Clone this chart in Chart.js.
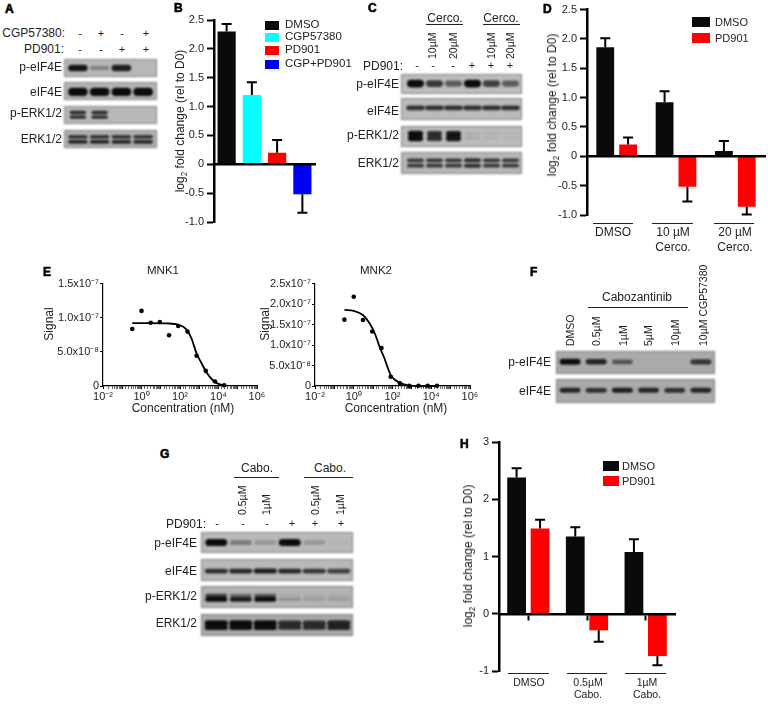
<!DOCTYPE html>
<html>
<head>
<meta charset="utf-8">
<title>Panels A-H</title>
<script src="https://cdn.jsdelivr.net/npm/chart.js@4/dist/chart.umd.min.js"></script>
<style>
  html, body { margin: 0; padding: 0; background: #fff; }
  #fig { position: relative; width: 768px; height: 708px; overflow: hidden;
         font-family: "Liberation Sans", Arial, sans-serif; color: #222; }
  #fig canvas { position: absolute; }
  .t { position: absolute; white-space: nowrap; line-height: 1; }
  .rule { position: absolute; height: 1px; background: #222; }
  .swatch { position: absolute; }
  .letter { font-weight: 700; font-size: 15px; color: #000; -webkit-text-stroke: 0.6px #000; }
  sub { font-size: 0.68em; line-height: 0; }
  .blot { filter: blur(0.8px); box-shadow: inset 0 0 0 1px rgba(80,80,80,0.55); }
</style>
</head>
<body>
<div id="fig"></div>
<script>
/* ── bar chart values ── */
const B_LABELS = ['DMSO', 'CGP57380', 'PD901', 'CGP+PD901'];
const B_VALUES = [2.3, 1.2, 0.2, -0.52];
const B_TIPS   = [2.43, 1.42, 0.42, -0.84];
const B_COLORS = ['#0a0a0a', '#00ffff', '#ff0000', '#0000f0'];

const D_GROUPS = ['DMSO', '10 µM', '20 µM'];
const D_DMSO   = [1.86, 0.92, 0.09];
const D_DMSO_TIPS = [2.01, 1.11, 0.26];
const D_PD901  = [0.2, -0.52, -0.86];
const D_PD901_TIPS = [0.32, -0.77, -0.99];

const H_GROUPS = ['DMSO', '0.5µM', '1µM'];
const H_DMSO   = [2.38, 1.35, 1.08];
const H_DMSO_TIPS = [2.54, 1.51, 1.3];
const H_PD901  = [1.49, -0.29, -0.74];
const H_PD901_TIPS = [1.64, -0.49, -0.9];

/* ── dose response values (signal in units of 1e-7) ── */
const CONC = [0.33, 1, 3, 9, 27, 81, 243, 729, 2187, 6561, 19683];
const MNK1_SIGNAL = [0.835, 1.1, 0.927, 0.936, 0.743, 0.878, 0.797, 0.444, 0.222, 0.067, 0.01];
const MNK1_FIT_X  = [0.33, 2.8, 20.4, 81, 221, 398, 724, 1318, 2400, 5250, 11750, 25700];
const MNK1_FIT_Y  = [0.922, 0.922, 0.917, 0.898, 0.826, 0.695, 0.478, 0.333, 0.197, 0.081, 0.023, 0.004];
const MNK2_SIGNAL = [1.62, 2.18, 1.61, 1.33, 0.927, 0.225, 0.065, 0.007, 0.005, 0.005, 0.005];
const MNK2_FIT_X  = [0.33, 1, 3.07, 6.8, 12.4, 22.4, 36, 81, 236, 716, 2100, 19683];
const MNK2_FIT_Y  = [1.857, 1.833, 1.727, 1.518, 1.276, 0.937, 0.709, 0.266, 0.08, 0.017, 0, 0];

/* ── western blot band intensities, one value per lane ── */
const A_PEIF4E = [0.95, 0.3, 0.9, 0];
const A_EIF4E  = [1, 1, 1, 1];
const A_PERK   = [0.85, 0.85, 0, 0];
const A_ERK    = [0.85, 0.85, 0.85, 0.85];
const C_PEIF4E = [1, 0.75, 0.55, 1, 0.7, 0.55];
const C_EIF4E  = [0.8, 0.8, 0.8, 0.8, 0.8, 0.8];
const C_PERK   = [1, 0.8, 0.95, 0.08, 0.05, 0.03];
const C_ERK    = [0.75, 0.75, 0.75, 0.8, 0.75, 0.75];
const F_PEIF4E = [1, 0.85, 0.55, 0, 0, 0.75];
const F_EIF4E  = [0.85, 0.8, 0.9, 0.85, 0.8, 0.85];
const G_PEIF4E = [1, 0.35, 0.2, 1, 0.2, 0.03];
const G_EIF4E  = [0.8, 0.85, 0.9, 0.85, 0.75, 0.7];
const G_PERK_U = [0.7, 0.5, 0.55, 0.08, 0.08, 0.08];
const G_PERK_L = [1, 0.9, 1, 0.2, 0.15, 0.15];
const G_ERK    = [1, 1, 1, 0.8, 0.8, 0.85];

const FONT = '"Liberation Sans", Arial, sans-serif';
const INK = '#222';
const fig = document.getElementById('fig');

/* ── dom helpers ── */
function T(text, x, y, o = {}) {
  const el = document.createElement('div');
  el.className = 't' + (o.cls ? ' ' + o.cls : '');
  el.innerHTML = text;
  el.style.fontSize = (o.size || 12) + 'px';
  el.style.left = '0'; el.style.top = '0';
  el.style.transformOrigin = '0 0';
  if (o.rot) {
    // rotated text reads upwards, o.mid centres it on y, otherwise it starts at y
    el.style.transform = `translate(${x}px,${y}px) rotate(-90deg) translate(${o.mid ? '-50%' : '0'},-50%)`;
  } else {
    const ax = o.align === 'r' ? '-100%' : o.align === 'c' ? '-50%' : '0';
    el.style.transform = `translate(${x}px,${y}px) translate(${ax},-50%)`;
  }
  fig.appendChild(el);
}
function rule(x1, x2, y, h = 1) {
  const el = document.createElement('div');
  el.className = 'rule';
  el.style.cssText = `left:${x1}px;top:${y}px;width:${x2 - x1}px;height:${h}px`;
  fig.appendChild(el);
}
function swatch(x, y, w, h, color) {
  const el = document.createElement('div');
  el.className = 'swatch';
  el.style.cssText = `left:${x}px;top:${y}px;width:${w}px;height:${h}px;background:${color}`;
  fig.appendChild(el);
}
function addCanvas(x, y, w, h, cls) {
  const c = document.createElement('canvas');
  c.width = w; c.height = h;
  c.style.cssText = `left:${x}px;top:${y}px;width:${w}px;height:${h}px`;
  if (cls) c.className = cls;
  fig.appendChild(c);
  return c;
}

/* ── error bar plugin, tips live on the dataset ── */
const errorBars = {
  id: 'errorbars',
  afterDatasetsDraw(chart) {
    const { ctx, scales } = chart;
    ctx.save();
    ctx.strokeStyle = '#000';
    ctx.lineWidth = 2;
    chart.data.datasets.forEach((ds, di) => {
      const meta = chart.getDatasetMeta(di);
      ds.tips.forEach((tip, i) => {
        const x = meta.data[i].x;
        const y0 = scales.y.getPixelForValue(ds.data[i]);
        const y1 = scales.y.getPixelForValue(tip);
        ctx.beginPath();
        ctx.moveTo(x, y0); ctx.lineTo(x, y1);
        ctx.moveTo(x - 5, y1); ctx.lineTo(x + 5, y1);
        ctx.stroke();
      });
    });
    ctx.restore();
  },
};

/* ── bar panels ── */
function barPanel(box, plot, cfg) {
  const canvas = addCanvas(box.x, box.y, box.w, box.h);
  return new Chart(canvas, {
    type: 'bar',
    data: { labels: cfg.labels, datasets: cfg.datasets },
    plugins: [errorBars],
    options: {
      animation: false,
      responsive: false,
      layout: { padding: {
        top: plot.top - box.y,
        bottom: box.y + box.h - plot.bottom,
        right: box.x + box.w - plot.right,
        left: 0,
      } },
      plugins: { legend: { display: false }, tooltip: { enabled: false } },
      scales: {
        x: {
          position: { y: 0 },
          ticks: { display: false },
          grid: { display: !!cfg.xTicks, drawOnChartArea: false, drawTicks: !!cfg.xTicks, offset: false,
                  tickLength: 5, tickColor: '#000', tickWidth: 2 },
          border: { color: '#000', width: 2.5, z: 1 },
        },
        y: {
          min: cfg.min, max: cfg.max,
          afterFit: s => { s.width = plot.left - box.x; },
          ticks: { stepSize: cfg.step, color: INK, font: { family: FONT, size: 11 }, padding: 3,
                   callback: v => cfg.fmt(v) },
          grid: { drawOnChartArea: false, tickLength: 7, tickColor: '#000', tickWidth: 2 },
          border: { color: '#000', width: 2.5 },
        },
      },
    },
  });
}
const oneDec = v => (v === 0 ? '0' : v.toFixed(1));

barPanel({ x: 170, y: 10, w: 155, h: 222 }, { left: 214, right: 315, top: 20, bottom: 222 }, {
  labels: B_LABELS, min: -1, max: 2.5, step: 0.5, fmt: oneDec,
  datasets: [{ data: B_VALUES, tips: B_TIPS, backgroundColor: B_COLORS, categoryPercentage: 1, barPercentage: 0.72 }],
});
barPanel({ x: 545, y: 0, w: 223, h: 225 }, { left: 587, right: 765, top: 6, bottom: 215 }, {
  labels: D_GROUPS, min: -1, max: 2.5, step: 0.5, fmt: oneDec,
  datasets: [
    { data: D_DMSO, tips: D_DMSO_TIPS, backgroundColor: '#0a0a0a', categoryPercentage: 0.77, barPercentage: 0.78 },
    { data: D_PD901, tips: D_PD901_TIPS, backgroundColor: '#ff0000', categoryPercentage: 0.77, barPercentage: 0.78 },
  ],
});
barPanel({ x: 460, y: 432, w: 225, h: 250 }, { left: 499, right: 675, top: 442, bottom: 671 }, {
  labels: H_GROUPS, min: -1, max: 3, step: 1, fmt: v => String(v), xTicks: true,
  datasets: [
    { data: H_DMSO, tips: H_DMSO_TIPS, backgroundColor: '#0a0a0a', categoryPercentage: 0.8, barPercentage: 0.8 },
    { data: H_PD901, tips: H_PD901_TIPS, backgroundColor: '#ff0000', categoryPercentage: 0.8, barPercentage: 0.8 },
  ],
});

/* ── dose response panels ── */
function dosePanel(box, plot, conc, signal, fitX, fitY, yMax, fmt) {
  const canvas = addCanvas(box.x, box.y, box.w, box.h);
  return new Chart(canvas, {
    type: 'scatter',
    data: { datasets: [
      { data: conc.map((x, i) => ({ x, y: signal[i] })), pointRadius: 2.3, pointBackgroundColor: '#000',
        pointBorderWidth: 0, showLine: false, clip: false },
      { data: fitX.map((x, i) => ({ x, y: fitY[i] })), borderColor: '#000', borderWidth: 1.8, pointRadius: 0,
        showLine: true, cubicInterpolationMode: 'monotone', clip: false },
    ] },
    options: {
      animation: false,
      responsive: false,
      layout: { padding: { top: plot.top - box.y, right: box.x + box.w - plot.right, left: 0, bottom: 0 } },
      plugins: { legend: { display: false }, tooltip: { enabled: false } },
      scales: {
        x: {
          type: 'logarithmic', min: 0.01, max: 1000000,
          afterFit: s => { s.height = box.y + box.h - plot.bottom; },
          ticks: { autoSkip: false, maxRotation: 0, minRotation: 0, color: INK, padding: 1,
                   font: { family: FONT, size: 11 },
                   callback: v => {
                     const e = Math.round(Math.log10(v));
                     if (Math.abs(Math.log10(v) - e) > 1e-6 || e % 2 !== 0) return '';
                     return '10' + ({ '-2': '⁻²', 0: '⁰', 2: '²', 4: '⁴', 6: '⁶' })[e];
                   } },
          grid: { drawOnChartArea: false, tickLength: 3, tickColor: '#000',
                  tickWidth: c => (c.tick && Number.isInteger(Math.round(Math.log10(c.tick.value) * 1e6) / 1e6) ? 1 : 0.6) },
          border: { color: '#000', width: 1.2 },
        },
        y: {
          min: 0, max: yMax,
          afterFit: s => { s.width = plot.left - box.x; },
          ticks: { stepSize: 0.5, color: INK, padding: 1, font: { family: FONT, size: 11 }, callback: v => fmt(v) },
          grid: { drawOnChartArea: false, tickLength: 3, tickColor: '#000', tickWidth: 1 },
          border: { color: '#000', width: 1.2 },
        },
      },
    },
  });
}
const sciTick = v => {
  if (v === 0) return '0';
  if (v < 1) return (v * 10).toFixed(1) + 'x10⁻⁸';
  return v.toFixed(1) + 'x10⁻⁷';
};
dosePanel({ x: 50, y: 276, w: 225, h: 127 }, { left: 103, right: 257, top: 283, bottom: 386 },
  CONC, MNK1_SIGNAL, MNK1_FIT_X, MNK1_FIT_Y, 1.5, sciTick);
dosePanel({ x: 262, y: 276, w: 225, h: 127 }, { left: 315, right: 470, top: 283, bottom: 386 },
  CONC, MNK2_SIGNAL, MNK2_FIT_X, MNK2_FIT_Y, 2.5, sciTick);

/* ── blots, each row of bands is a floating bar per lane ── */
function blot(box, pad, bg, rows) {
  const canvas = addCanvas(box.x, box.y, box.w, box.h, 'blot');
  canvas.style.background = bg;
  new Chart(canvas, {
    type: 'bar',
    data: {
      labels: rows[0].lanes.map((_, i) => 'lane ' + (i + 1)),
      datasets: rows.map(r => ({
        data: r.lanes.map(v => {
          const t = r.thick * (0.55 + 0.45 * v) / 2;
          return [r.at - t, r.at + t];
        }),
        backgroundColor: r.lanes.map(v => `rgba(12,12,12,${v})`),
        borderRadius: 4,
        borderSkipped: false,
        categoryPercentage: 1,
        barPercentage: r.width || 0.9,
        grouped: false,
      })),
    },
    options: {
      animation: false,
      responsive: false,
      layout: { padding: { left: pad[0], right: pad[1], top: 0, bottom: 0 } },
      plugins: { legend: { display: false }, tooltip: { enabled: false } },
      scales: {
        x: { display: false },
        y: { display: false, min: 0, max: 1, reverse: true },
      },
    },
  });
}

// panel A
blot({ x: 64, y: 59, w: 93, h: 18 }, [3, 3], '#b8b8b8', [{ lanes: A_PEIF4E, at: 0.5, thick: 0.38 }]);
blot({ x: 64, y: 82, w: 93, h: 18 }, [3, 3], '#b4b4b4', [{ lanes: A_EIF4E, at: 0.55, thick: 0.46 }]);
blot({ x: 64, y: 106, w: 93, h: 18 }, [3, 3], '#b8b8b8', [
  { lanes: A_PERK, at: 0.36, thick: 0.2, width: 0.76 }, { lanes: A_PERK, at: 0.62, thick: 0.2, width: 0.76 }]);
blot({ x: 64, y: 130, w: 93, h: 18 }, [3, 3], '#b0b0b0', [
  { lanes: A_ERK, at: 0.38, thick: 0.2 }, { lanes: A_ERK, at: 0.66, thick: 0.22 }]);

// panel C
blot({ x: 401, y: 74, w: 121, h: 20 }, [5, 2], '#bdbdbd', [{ lanes: C_PEIF4E, at: 0.48, thick: 0.38 }]);
blot({ x: 401, y: 98, w: 121, h: 22 }, [5, 2], '#bbb', [{ lanes: C_EIF4E, at: 0.45, thick: 0.24, width: 0.98 }]);
blot({ x: 401, y: 126, w: 121, h: 21 }, [5, 2], '#bbb', [
  { lanes: C_PERK, at: 0.36, thick: 0.26, width: 0.8 }, { lanes: C_PERK, at: 0.58, thick: 0.3, width: 0.8 }]);
blot({ x: 401, y: 152, w: 121, h: 22 }, [5, 2], '#b6b6b6', [
  { lanes: C_ERK, at: 0.38, thick: 0.2 }, { lanes: C_ERK, at: 0.62, thick: 0.2 }]);

// panel F
blot({ x: 556, y: 351, w: 159, h: 23 }, [1, 1], '#aaa', [{ lanes: F_PEIF4E, at: 0.47, thick: 0.26, width: 0.8 }]);
blot({ x: 556, y: 379, w: 159, h: 24 }, [1, 1], '#aaa', [{ lanes: F_EIF4E, at: 0.47, thick: 0.22, width: 0.8 }]);

// panel G
blot({ x: 201, y: 532, w: 152, h: 21 }, [3, 2], '#b9b9b9', [{ lanes: G_PEIF4E, at: 0.5, thick: 0.34 }]);
blot({ x: 201, y: 559, w: 152, h: 22 }, [3, 2], '#b9b9b9', [{ lanes: G_EIF4E, at: 0.55, thick: 0.24, width: 0.95 }]);
blot({ x: 201, y: 586, w: 152, h: 22 }, [3, 2], '#b4b4b4', [
  { lanes: G_PERK_U, at: 0.42, thick: 0.16 }, { lanes: G_PERK_L, at: 0.6, thick: 0.24 }]);
blot({ x: 201, y: 614, w: 152, h: 22 }, [3, 2], '#a8a8a8', [
  { lanes: G_ERK, at: 0.42, thick: 0.28, width: 0.95 }, { lanes: G_ERK, at: 0.62, thick: 0.22, width: 0.95 }]);

/* ── panel letters ── */
[['A', 5, 9], ['B', 174, 8], ['C', 368, 8], ['D', 543, 9], ['E', 43, 272], ['F', 530, 272], ['G', 160, 454], ['H', 460, 444]]
  .forEach(([s, x, y]) => T(s, x, y, { cls: 'letter' }));

/* ── panel A text ── */
T('CGP57380:', 65, 33, { align: 'r' });
T('PD901:', 64, 49, { align: 'r' });
['-', '+', '-', '+'].forEach((s, i) => T(s, [80, 101, 122, 146][i], 33, { align: 'c', size: 11 }));
['-', '-', '+', '+'].forEach((s, i) => T(s, [80, 101, 122, 146][i], 49, { align: 'c', size: 11 }));
[['p-eIF4E', 67], ['eIF4E', 92], ['p-ERK1/2', 113], ['ERK1/2', 139]].forEach(([s, y]) => T(s, 62, y, { align: 'r' }));

/* ── panel B text ── */
T('log<sub>2</sub> fold change (rel to D0)', 180, 121, { rot: true, mid: true });
B_LABELS.forEach((s, i) => {
  const y = [25, 37, 50, 64][i];
  swatch(265, y - 4.5, 14, 9, B_COLORS[i]);
  T(s, 285, y, { size: 11.5, });
});

/* ── panel C text ── */
T('Cerco.', 445, 18, { align: 'c' });
T('Cerco.', 501, 18, { align: 'c' });
rule(426, 463, 24); rule(483, 520, 24);
[['10µM', 432], ['20µM', 453], ['10µM', 491], ['20µM', 510]].forEach(([s, x]) => T(s, x, 59, { rot: true, size: 10.5 }));
T('PD901:', 403, 66, { align: 'r' });
['-', '-', '-', '+', '+', '+'].forEach((s, i) => T(s, [417, 433, 453, 472, 491, 510][i], 65, { align: 'c', size: 11 }));
[['p-eIF4E', 84], ['eIF4E', 111], ['p-ERK1/2', 135], ['ERK1/2', 163]].forEach(([s, y]) => T(s, 399, y, { align: 'r' }));

/* ── panel D text ── */
T('log<sub>2</sub> fold change (rel to D0)', 552, 105, { rot: true, mid: true });
swatch(692, 17, 18, 10, '#0a0a0a');
swatch(692, 33, 18, 10, '#ff0000');
T('DMSO', 715, 22, { size: 11 });
T('PD901', 715, 38, { size: 11 });
rule(593, 633, 223); rule(652, 693, 223); rule(714, 754, 223);
D_GROUPS.forEach((s, i) => T(s, [613, 673, 735][i], 232, { align: 'c' }));
T('Cerco.', 673, 247, { align: 'c' });
T('Cerco.', 735, 247, { align: 'c' });

/* ── panel E text ── */
T('MNK1', 163, 271, { align: 'c', size: 11.5 });
T('MNK2', 376, 271, { align: 'c', size: 11.5 });
T('Signal', 49, 324, { rot: true, mid: true });
T('Signal', 265, 324, { rot: true, mid: true });
T('Concentration (nM)', 183, 408, { align: 'c' });
T('Concentration (nM)', 396, 408, { align: 'c' });

/* ── panel F text ── */
T('Cabozantinib', 637, 297, { align: 'c' });
rule(588, 688, 307);
[['DMSO', 570], ['0.5µM', 596], ['1µM', 623], ['5µM', 648], ['10µM', 675], ['10µM CGP57380', 703]]
  .forEach(([s, x]) => T(s, x, 346, { rot: true, size: 10.5 }));
T('p-eIF4E', 551, 362, { align: 'r' });
T('eIF4E', 551, 391, { align: 'r' });

/* ── panel G text ── */
T('Cabo.', 257, 468, { align: 'c' });
T('Cabo.', 330, 468, { align: 'c' });
rule(234, 279, 477); rule(304, 353, 477);
[['0.5µM', 242], ['1µM', 266], ['0.5µM', 315], ['1µM', 340]].forEach(([s, x]) => T(s, x, 515, { rot: true, size: 10.5 }));
T('PD901:', 206, 524, { align: 'r' });
['-', '-', '-', '+', '+', '+'].forEach((s, i) => T(s, [217, 243, 267, 292, 315, 341][i], 523, { align: 'c', size: 11 }));
[['p-eIF4E', 543], ['eIF4E', 571], ['p-ERK1/2', 596], ['ERK1/2', 623]].forEach(([s, y]) => T(s, 197, y, { align: 'r' }));

/* ── panel H text ── */
T('log<sub>2</sub> fold change (rel to D0)', 468, 556, { rot: true, mid: true });
swatch(603, 461, 16, 10, '#0a0a0a');
swatch(603, 476, 16, 10, '#ff0000');
T('DMSO', 622, 466, { size: 11 });
T('PD901', 622, 481, { size: 11 });
rule(508, 549, 673); rule(567, 607, 673); rule(625, 666, 673);
H_GROUPS.forEach((s, i) => T(s, [529, 588, 647][i], 682, { align: 'c', size: 10.5 }));
T('Cabo.', 588, 694, { align: 'c', size: 10.5 });
T('Cabo.', 647, 694, { align: 'c', size: 10.5 });
</script>
</body>
</html>
